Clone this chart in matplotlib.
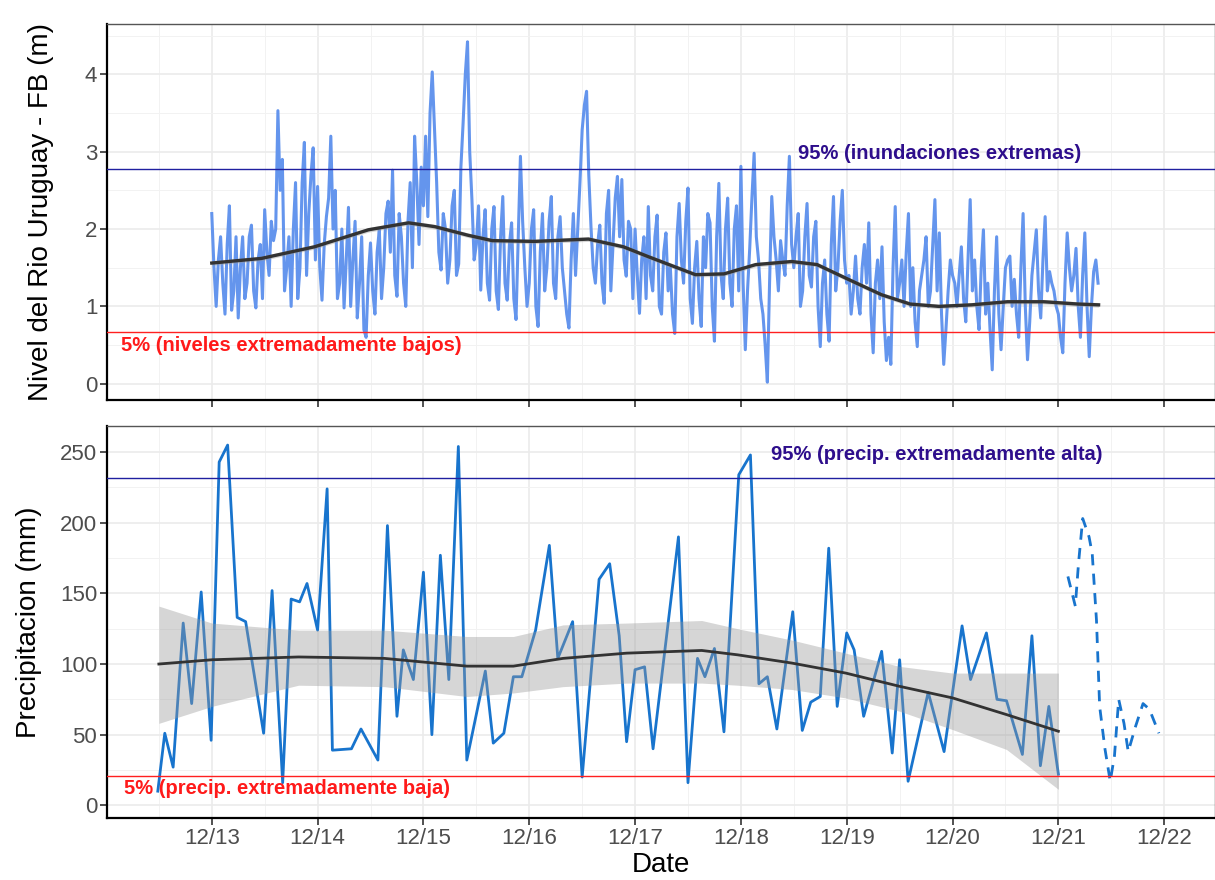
import numpy as np
import matplotlib
matplotlib.use("Agg")
import matplotlib.pyplot as plt

plt.rcParams["font.family"] = ["Liberation Sans", "DejaVu Sans"]

# ---- river level: readings on the hour, starting 12/13 00h ----
level = [
    2.2, 1.0, 1.9, 0.9, 2.3, 1.2, 0.85, 1.9, 1.3, 2.05, 0.98, 1.8, 2.25, 1.4, 1.85, 3.53, 2.9, 1.5, 1.0, 2.6, 1.5, 3.12, 2.2, 3.05,
    2.55, 1.08, 2.16, 3.2, 2.5, 1.3, 0.98, 2.28, 1.6, 0.85, 1.9, 0.6, 1.82, 0.9, 1.99, 1.5, 2.36, 2.76, 1.13, 1.9, 1.0, 2.6, 3.2, 1.8,
    2.3, 2.16, 4.03, 2.6, 1.47, 2.0, 1.6, 2.5, 1.55, 3.37, 4.42, 2.38, 1.8, 1.21, 2.25, 1.08, 2.29, 0.96, 2.42, 1.08, 2.08, 0.83, 2.94, 1.5,
    1.3, 2.25, 0.74, 2.2, 1.5, 2.42, 1.1, 2.16, 1.2, 0.72, 2.2, 2.0, 3.28, 3.78, 2.03, 1.3, 2.05, 1.04, 2.5, 1.8, 2.68, 2.64, 1.39, 2.0,
    2.0, 0.91, 1.9, 2.29, 1.2, 2.18, 0.9, 1.95, 1.5, 0.65, 2.33, 1.3, 2.53, 0.78, 1.84, 0.74, 1.5, 2.08, 0.55, 2.59, 1.1, 2.4, 1.0, 2.3,
    2.81, 0.44, 1.75, 2.98, 1.6, 0.9, 0.02, 2.42, 1.6, 1.85, 1.4, 2.94, 1.5, 2.2, 1.2, 2.33, 1.25, 2.1, 0.48, 1.6, 0.55, 2.42, 1.5, 2.5,
    1.3, 0.9, 1.65, 0.9, 1.8, 2.08, 0.4, 1.6, 1.77, 0.3, 0.25, 2.29, 1.3, 1.0, 2.2, 1.5, 0.48, 1.4, 1.9, 1.2, 2.38, 1.95, 0.25, 1.2,
    1.4, 1.0, 1.77, 0.8, 2.38, 1.6, 0.7, 1.99, 1.3, 0.18, 1.9, 0.44, 1.5, 1.65, 1.35, 0.6, 2.2, 0.31, 1.4, 1.99, 0.85, 2.16, 1.45, 1.2,
    0.9, 0.4, 1.95, 1.2, 1.75, 0.6, 1.95, 0.35, 1.45, 1.3,
]
# readings on the half hour (between the hourly ones)
level_half = [
    1.5, 1.6, 1.3, 1.8, 0.95, 1.9, 1.5, 1.1, 1.9, 1.2, 1.6, 1.1, 1.7, 2.1, 2.0, 2.5, 1.2, 1.9, 2.0, 1.1, 2.6, 1.4, 2.7, 1.6,
    1.5, 1.8, 2.4, 2.0, 1.1, 2.0, 1.6, 1.0, 2.1, 1.3, 0.7, 1.4, 1.2, 1.7, 1.1, 2.2, 1.7, 1.4, 2.2, 1.3, 2.1, 1.5, 2.6, 2.8,
    3.2, 3.5, 3.3, 1.7, 2.2, 1.3, 2.3, 1.4, 2.8, 4.0, 3.0, 1.6, 2.3, 1.9, 1.3, 2.0, 1.2, 1.9, 1.3, 1.8, 1.1, 1.9, 2.1, 1.0,
    2.0, 1.0, 1.7, 1.2, 2.1, 1.3, 1.9, 1.5, 0.9, 1.6, 1.4, 2.6, 3.6, 2.7, 1.5, 1.8, 1.3, 2.2, 1.2, 2.4, 1.9, 1.6, 2.1, 1.1,
    1.4, 1.6, 1.1, 1.4, 1.9, 1.0, 1.7, 1.2, 0.9, 1.9, 1.6, 2.1, 1.1, 1.5, 1.1, 1.9, 2.2, 1.0, 1.9, 1.4, 2.0, 1.3, 2.0, 1.2,
    1.3, 1.2, 2.4, 1.9, 1.1, 0.5, 1.3, 1.9, 1.2, 1.6, 2.3, 1.8, 1.9, 1.0, 1.9, 1.4, 1.9, 1.0, 1.3, 0.9, 1.8, 1.2, 2.1, 1.6,
    1.4, 1.2, 1.1, 1.5, 1.3, 0.9, 1.3, 1.1, 0.8, 0.6, 1.5, 1.1, 1.6, 1.7, 1.0, 0.8, 1.2, 1.6, 1.0, 1.8, 1.2, 0.9, 0.7, 1.6,
    1.3, 1.4, 1.1, 1.6, 1.2, 1.0, 1.5, 0.9, 0.7, 1.2, 0.9, 1.0, 1.6, 1.0, 0.9, 1.5, 1.0, 0.8, 1.7, 1.2, 1.6, 1.2, 1.3, 1.0,
    0.6, 1.3, 1.5, 1.4, 1.0, 1.4, 1.0, 1.0, 1.6,
]

level_smooth_day = [13.0, 13.47, 13.97, 14.48, 14.86, 15.11, 15.42, 15.65, 16.05, 16.56, 16.89, 17.13, 17.57,
                    17.84, 18.14, 18.48, 18.72, 19.03, 19.33, 19.6, 19.87, 20.18, 20.52, 20.86, 21.19, 21.38]
level_smooth = [1.56, 1.62, 1.77, 1.99, 2.08, 2.03, 1.92, 1.85, 1.84, 1.87, 1.77, 1.64, 1.41,
                1.42, 1.54, 1.58, 1.54, 1.34, 1.15, 1.03, 1.0, 1.02, 1.06, 1.06, 1.03, 1.02]
level_p95 = 2.78
level_p05 = 0.67

# ---- precipitation ----
precip_day = [12.49, 12.556, 12.635, 12.73, 12.81, 12.90, 12.994, 13.07, 13.15, 13.24, 13.32, 13.49, 13.57, 13.67,
              13.75, 13.83, 13.90, 14.0, 14.09, 14.14, 14.32, 14.41, 14.57, 14.66, 14.75, 14.81, 14.905, 15.0,
              15.08, 15.16, 15.24, 15.33, 15.41, 15.585, 15.66, 15.76, 15.85, 15.93, 16.06, 16.19, 16.27, 16.41,
              16.50, 16.66, 16.76, 16.85, 16.92, 17.0, 17.09, 17.17, 17.41, 17.5, 17.59, 17.66, 17.75, 17.84,
              17.98, 18.09, 18.17, 18.25, 18.34, 18.49, 18.58, 18.66, 18.75, 18.83, 18.91, 19.0, 19.07, 19.16,
              19.33, 19.43, 19.50, 19.58, 19.77, 19.92, 20.09, 20.17, 20.32, 20.42, 20.51, 20.66, 20.75, 20.83,
              20.91, 21.0]
precip_mm = [10, 51, 27, 129, 72, 151, 46, 243, 255, 133, 130, 51, 152, 16,
             146, 144, 157, 124, 224, 39, 40, 54, 32, 198, 63, 110, 89, 165,
             50, 177, 89, 254, 32, 95, 44, 51, 91, 91, 124, 184, 104, 130,
             20, 160, 171, 120, 45, 96, 98, 40, 190, 16, 104, 91, 111, 52,
             234, 248, 86, 91, 54, 137, 53, 73, 77, 182, 70, 122, 110, 63,
             109, 37, 103, 17, 80, 38, 127, 89, 122, 75, 74, 36, 120, 28,
             70, 22]

forecast_day = [21.09, 21.16, 21.19, 21.23, 21.29, 21.32, 21.36, 21.39, 21.44, 21.49, 21.53, 21.57,
                21.62, 21.66, 21.73, 21.8, 21.86, 21.95]
forecast_mm = [162, 141, 171, 203, 190, 178, 131, 70, 40, 17, 35, 75, 58, 38, 56, 72, 68, 51]

smooth_day = [12.5, 13.0, 13.82, 14.63, 15.41, 15.85, 16.32, 16.92, 17.63, 17.97, 18.48, 18.99, 19.5, 20.0, 20.51, 21.0]
smooth_fit = [100, 103, 105, 104, 98.5, 98.5, 104, 107.7, 109.6, 106.5, 100.7, 93.6, 84.2, 76, 64.2, 52.4]
smooth_lo = [58, 70, 85, 84, 77, 79.5, 84, 86.5, 86.5, 85, 82, 76, 66.6, 53.6, 39.5, 11.3]
smooth_hi = [141, 129, 124, 124, 119.5, 119.5, 127.7, 129, 130.8, 125, 117, 107.7, 98.3, 93.6, 93.6, 93.6]
precip_p95 = 232
precip_p05 = 21

date_ticks = list(range(13, 23))
date_labels = ["12/%d" % d for d in date_ticks]

AX_W = 1215 - 107  # axes width in pixels

# merge hourly and half-hourly readings into one time series
n = len(level) + len(level_half)
level_all = np.empty(n)
level_all[0::2] = level
level_all[1::2] = level_half
level_day = 13 + np.arange(n) / 48


def style_axis(ax, ymajor, yminor):
    ax.set_xlim(12.01, 22.48)
    ax.set_xticks(date_ticks)
    ax.set_xticks(np.arange(12.5, 22.5, 1), minor=True)
    ax.set_yticks(ymajor)
    ax.set_yticks(yminor, minor=True)
    ax.grid(True, which="major", color="#EBEBEB", lw=1.2, zorder=0)
    ax.grid(True, which="minor", color="#F2F2F2", lw=0.7, zorder=0)
    ax.set_axisbelow(True)
    for s in ["top", "right"]:
        ax.spines[s].set_color("#555555")
        ax.spines[s].set_linewidth(1.0)
    for s in ["left", "bottom"]:
        ax.spines[s].set_color("black")
        ax.spines[s].set_linewidth(1.6)
    ax.tick_params(which="major", length=5, width=1.2, color="#333333",
                   labelsize=16, labelcolor="#4D4D4D", pad=2)
    ax.tick_params(which="minor", length=0)


fig = plt.figure(figsize=(12.15, 8.8), dpi=100)
ax1 = fig.add_axes([107 / 1215, 1 - 400 / 880, AX_W / 1215, 376 / 880])
ax2 = fig.add_axes([107 / 1215, 1 - 818 / 880, AX_W / 1215, 392 / 880])

# top panel
ax1.plot(level_day, level_all, color="#6495ED", lw=2.2, zorder=2)
ax1.fill_between(level_smooth_day, np.array(level_smooth) - 0.03, np.array(level_smooth) + 0.03,
                 color="#999999", alpha=0.4, lw=0, zorder=3)
ax1.plot(level_smooth_day, level_smooth, color="#333333", lw=2.4, zorder=4)
ax1.axhline(level_p95, color="#2020A0", lw=1.0, zorder=3)
ax1.axhline(level_p05, color="#FF2020", lw=1.0, zorder=3)
ax1.text(19.88, 2.98, "95% (inundaciones extremas)", color="#2E0E8C", fontsize=14.5,
         fontweight="bold", ha="center", va="center")
ax1.text(12.14, 0.49, "5% (niveles extremadamente bajos)", color="#FF1A1A", fontsize=14.5,
         fontweight="bold", ha="left", va="center")
style_axis(ax1, range(0, 5), np.arange(0.5, 4.6, 1))
ax1.set_ylim(-0.21, 4.65)
ax1.tick_params(axis="x", labelbottom=False)
ax1.set_ylabel("Nivel del Rio Uruguay - FB (m)", fontsize=20)
ax1.yaxis.set_label_coords((54 - 107) / AX_W, 0.5)

# bottom panel
ax2.plot(precip_day, precip_mm, color="#1874CD", lw=2.0, zorder=2)
ax2.plot(forecast_day, forecast_mm, color="#1874CD", lw=2.0, ls=(0, (4, 3)), zorder=2)
ax2.fill_between(smooth_day, smooth_lo, smooth_hi, color="#999999", alpha=0.4, lw=0, zorder=3)
ax2.plot(smooth_day, smooth_fit, color="#333333", lw=2.0, zorder=4)
ax2.axhline(precip_p95, color="#2020A0", lw=1.0, zorder=3)
ax2.axhline(precip_p05, color="#FF2020", lw=1.0, zorder=3)
ax2.text(19.85, 248, "95% (precip. extremadamente alta)", color="#2E0E8C", fontsize=14.5,
         fontweight="bold", ha="center", va="center")
ax2.text(12.17, 12, "5% (precip. extremadamente baja)", color="#FF1A1A", fontsize=14.5,
         fontweight="bold", ha="left", va="center")
style_axis(ax2, range(0, 251, 50), np.arange(25, 276, 50))
ax2.set_ylim(-9, 268.5)
ax2.set_xticklabels(date_labels)
ax2.set_ylabel("Precipitacion (mm)", fontsize=20)
ax2.yaxis.set_label_coords((42 - 107) / AX_W, 0.5)
ax2.set_xlabel("Date", fontsize=20, labelpad=2)

fig.savefig("out.png", dpi=100)
